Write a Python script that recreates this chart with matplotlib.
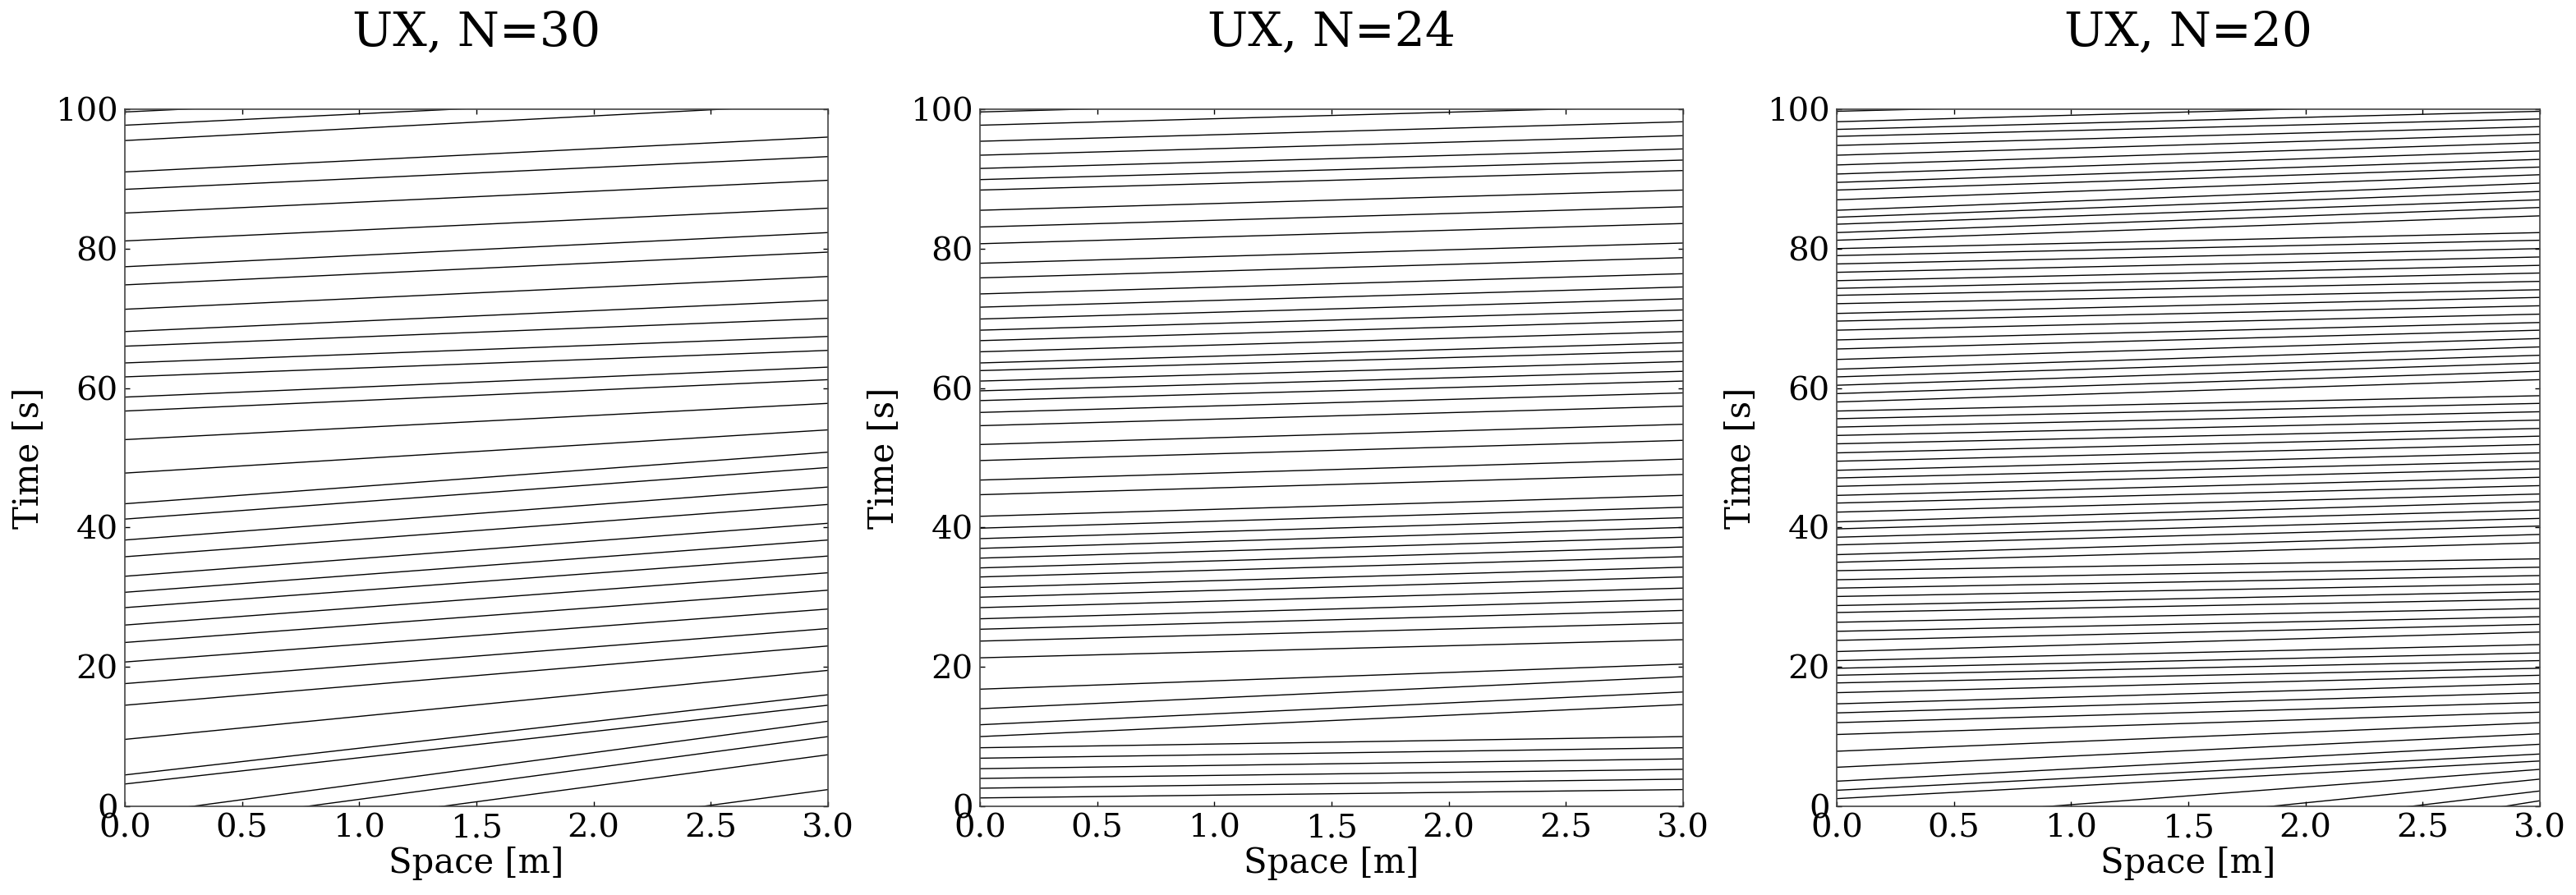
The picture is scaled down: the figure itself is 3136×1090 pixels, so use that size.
import matplotlib
matplotlib.use("Agg")
import matplotlib.pyplot as plt

plt.rcParams['font.family'] = ['DejaVu Serif']

# x extent of every contour line (m)
space_edges = [0.0, 3.0]

# N=30: time where each line meets x=0 and x=3 (negative = line enters from the bottom,
# >100 = line leaves through the top)
t_left_30 = [-11.1, -6.1, -3.5, -1.3, 3.2, 4.5, 9.6, 14.5, 17.6, 20.7, 23.5, 26.0,
             28.5, 30.7, 33.0, 35.8, 38.2, 41.2, 43.4, 47.8, 52.6, 56.7, 58.7, 61.6, 63.6,
             66.0, 68.1, 71.3, 74.8, 77.4, 81.1, 85.1, 88.5, 91.0, 95.5, 97.7, 99.6]
t_right_30 = [2.4, 7.4, 10.0, 12.2, 14.5, 16.0, 19.5, 23.0, 25.5, 28.3, 31.0, 33.5,
              35.9, 38.2, 40.6, 43.3, 45.8, 48.6, 50.8, 54.0, 57.8, 61.2, 63.0, 65.4, 67.4,
              70.0, 72.6, 76.0, 79.5, 82.3, 85.8, 89.8, 93.2, 96.0, 100.8, 102.6, 104.4]

# N=24
t_left_24 = [1.2, 2.6, 4.0, 5.4, 6.9, 8.4, 10.0, 11.7, 14.0, 16.8, 21.3, 23.7, 25.4, 26.9,
             28.5, 30.0, 31.4, 32.9, 34.2, 35.6, 37.0, 38.4, 39.9, 41.6, 44.7, 46.8, 49.6,
             51.9, 54.6, 56.5, 58.2, 59.6, 61.0, 62.5, 63.6, 65.2, 66.8, 68.3, 69.9, 71.6,
             73.5, 75.8, 77.9, 80.7, 83.1, 85.5, 88.4, 89.9, 91.5, 93.4, 95.4, 97.7, 99.6]
t_right_24 = [2.4, 3.9, 5.3, 6.8, 8.4, 10.0, 14.6, 16.4, 18.6, 20.4, 23.9, 26.3, 28.1, 29.7,
              31.3, 32.9, 34.3, 35.8, 37.2, 38.6, 40.0, 41.4, 42.9, 44.6, 47.6, 49.8, 52.5,
              54.8, 57.4, 59.3, 61.0, 62.4, 63.8, 65.3, 66.5, 68.1, 69.7, 71.2, 72.8, 74.5,
              76.4, 78.7, 80.8, 83.6, 86.0, 88.4, 91.2, 92.7, 94.3, 96.2, 98.2, 100.5, 102.4]

# N=20
t_left_20 = [-15.2, -9.8, -6.3, -2.3, 1.1, 2.3, 3.6, 5.6, 7.9, 10.3, 12.0, 13.4, 14.7, 16.3,
             17.7, 18.8, 19.8, 20.9, 22.2, 23.8, 25.1, 26.4, 27.8, 28.8, 30.1, 31.3, 32.5,
             33.8, 35.0, 36.1, 37.5, 38.6, 39.8, 40.8, 42.2, 43.5, 44.6, 45.9, 47.1, 48.2,
             49.5, 50.7, 52.0, 53.2, 54.4, 55.6, 56.7, 58.0, 59.2, 60.4, 61.6, 62.7, 64.1,
             65.6, 66.9, 68.3, 69.6, 70.7, 72.1, 73.3, 74.3, 75.4, 76.6, 77.8, 79.0, 80.0,
             81.2, 82.3, 83.5, 84.5, 85.5, 87.0, 88.4, 89.5, 90.7, 92.0, 93.4, 94.8, 96.1,
             97.1, 98.2, 99.7]
t_right_20 = [0.8, 2.2, 3.9, 5.3, 6.5, 7.5, 8.9, 10.4, 12.0, 13.5, 14.9, 16.3, 17.6, 18.8,
              19.8, 20.9, 22.0, 23.2, 25.0, 26.1, 27.2, 28.4, 29.7, 30.8, 31.9, 33.1, 34.3,
              35.5, 37.8, 39.0, 40.2, 41.3, 42.5, 43.7, 44.8, 46.0, 47.2, 48.4, 49.5, 50.7,
              51.9, 53.1, 54.2, 55.4, 56.6, 57.8, 58.9, 61.2, 62.4, 63.6, 64.7, 65.9, 67.1,
              68.3, 69.4, 70.6, 71.8, 73.0, 74.1, 75.3, 76.5, 77.6, 78.8, 80.0, 81.2, 82.3,
              84.7, 85.9, 87.0, 88.2, 89.4, 90.6, 91.7, 92.8, 94.0, 95.2, 96.4, 97.5, 98.6,
              99.7, 101.0, 102.2]

titles = ["UX, N=30", "UX, N=24", "UX, N=20"]
x_ticks = [0.0, 0.5, 1.0, 1.5, 2.0, 2.5, 3.0]
y_ticks = [0, 20, 40, 60, 80, 100]

panels = [(t_left_30, t_right_30), (t_left_24, t_right_24), (t_left_20, t_right_20)]
lefts = [152 / 3136, 1193 / 3136, 2236 / 3136]

fig = plt.figure(figsize=(15.68, 5.45), dpi=200)
for (t_left, t_right), title, left in zip(panels, titles, lefts):
    ax = fig.add_axes([left, 0.0991, 856 / 3136, 0.7789])
    for tl, tr in zip(t_left, t_right):
        ax.plot(space_edges, [tl, tr], color='k', lw=0.5)
    ax.set_xlim(0, 3)
    ax.set_ylim(0, 100)
    ax.set_xticks(x_ticks)
    ax.set_xticklabels(["%.1f" % v for v in x_ticks])
    ax.set_yticks(y_ticks)
    ax.tick_params(direction='in', length=2, width=0.5, labelsize=14.5, pad=3,
                   top=True, right=True)
    for sp in ax.spines.values():
        sp.set_linewidth(0.6)
        sp.set_color('#444444')
    ax.set_xlabel("Space [m]", fontsize=15, labelpad=1)
    ax.set_ylabel("Time [s]", fontsize=15, labelpad=4)
    ax.set_title(title, fontsize=21, pad=28)

fig.savefig("out.png", dpi=200)
plt.close()
